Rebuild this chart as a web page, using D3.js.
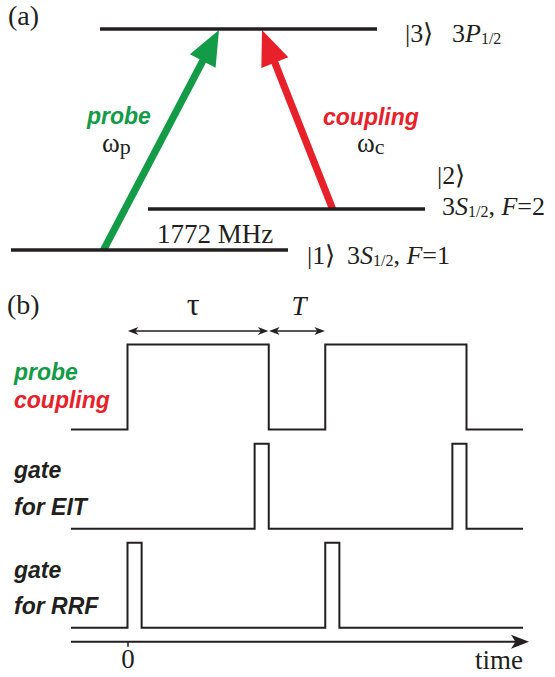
<!DOCTYPE html>
<html>
<head>
<meta charset="utf-8">
<script src="https://cdn.jsdelivr.net/npm/d3@7"></script>
<style>
  html, body { margin: 0; padding: 0; background: #fff; }
  svg { display: block; }
  .serif { font-family: "Liberation Serif", "Times New Roman", serif; fill: #231f20; }
  .sans  { font-family: "Liberation Sans", Arial, sans-serif; font-weight: bold; font-style: italic; }
</style>
</head>
<body>
<svg id="fig" width="555" height="677"></svg>
<script>
// ---------- data ----------
// Λ-type level scheme of Na (schematic level heights)
const levelKets    = ["|1⟩", "|2⟩", "|3⟩"];
const levelTerms   = ["3S", "3S", "3P"];
const levelFvalues = ["1", "2", null];
const levelHeights = [0, 1, 5.4];
const splittingLabel = "1772 MHz";

// transitions: [from level, to level]
const transitionNames = ["probe", "coupling"];
const transitionSymbols = ["p", "c"];
const transitionLevels = [[0, 2], [1, 2]];

// pulse sequence, time in units of the gate width
const timeDomain = [-4, 28];
const timeTicks = [0];
const tauInterval = [0, 10];
const TInterval = [10, 14];
const probeCouplingPulses = [[0, 10], [14, 24]];
const gateEITPulses = [[9, 10], [23, 24]];
const gateRRFPulses = [[0, 1], [14, 15]];
const rowPulses = [probeCouplingPulses, gateEITPulses, gateRRFPulses];
const rowLabels = [["probe", "coupling"], ["gate", "for EIT"], ["gate", "for RRF"]];

// ---------- style / layout ----------
const INK = "#231f20", GREEN = "#149b48", RED = "#e8202a";
const labelColors = [[GREEN, RED], [INK, INK], [INK, INK]];
const levelX0 = [11, 148, 100], levelLen = 277;
const arrowFootX = [103, 333], arrowTipX = [219, 262];

const svg = d3.select("#fig");

// ======================= (a) level scheme =======================
const yE = d3.scaleLinear().domain([0, 5.4]).range([250, 29]);

function arrowPoly(x0, y0, x1, y1, hw, headLen, headHw) {
  const dx = x1 - x0, dy = y1 - y0, L = Math.hypot(dx, dy);
  const ux = dx / L, uy = dy / L, nx = -uy, ny = ux;
  const bx = x1 - ux * headLen, by = y1 - uy * headLen;
  // shaft foot cut horizontally along the lower level
  const foot = s => { const t = -ny * s * hw / uy; return [x0 + nx * s * hw + t * ux, y0]; };
  return [foot(1), [bx + nx * hw, by + ny * hw], [bx + nx * headHw, by + ny * headHw], [x1, y1],
          [bx - nx * headHw, by - ny * headHw], [bx - nx * hw, by - ny * hw], foot(-1)];
}

const gA = svg.append("g");
transitionLevels.forEach(([from, to], i) => {
  const pts = arrowPoly(arrowFootX[i], yE(levelHeights[from]) + 1, arrowTipX[i], yE(levelHeights[to]) + 1, 3.6, 35, 14.5);
  gA.append("path").attr("d", d3.line()(pts) + "Z").attr("fill", i === 0 ? GREEN : RED);
});

gA.selectAll("line.level").data(levelHeights).join("line")
  .attr("class", "level")
  .attr("x1", (d, i) => levelX0[i]).attr("x2", (d, i) => levelX0[i] + levelLen)
  .attr("y1", d => yE(d)).attr("y2", d => yE(d))
  .attr("stroke", INK).attr("stroke-width", 3.4);

gA.append("text").attr("class", "serif").attr("x", 8).attr("y", 25).attr("font-size", 28).text("(a)");

// transition labels
const tLabelPos = [[87, 124, 102, 152], [323, 125, 357, 152]];
transitionNames.forEach((name, i) => {
  const [lx, ly, wx, wy] = tLabelPos[i];
  gA.append("text").attr("class", "sans").attr("x", lx).attr("y", ly).attr("font-size", 23)
    .attr("fill", i === 0 ? GREEN : RED).text(name);
  const w = gA.append("text").attr("class", "serif").attr("x", wx).attr("y", wy).attr("font-size", 27);
  w.append("tspan").text("ω");
  w.append("tspan").attr("font-size", 22).attr("dy", 2).text(transitionSymbols[i]);
});

gA.append("text").attr("class", "serif").attr("x", 157).attr("y", 243).attr("font-size", 27).text(splittingLabel);

// level labels
function termLabel(x, y, i) {
  const t = gA.append("text").attr("class", "serif").attr("x", x).attr("y", y).attr("font-size", 26);
  t.append("tspan").text("3");
  t.append("tspan").attr("font-style", "italic").text(levelTerms[i].slice(1));
  t.append("tspan").attr("font-size", 16).attr("dy", 2).text("1/2");
  if (levelFvalues[i]) {
    t.append("tspan").attr("dy", -2).text(", ");
    t.append("tspan").attr("font-style", "italic").text("F");
    t.append("tspan").text("=" + levelFvalues[i]);
  }
}
const ketPos = [[307, 264], [437, 184], [405, 42]];
const termPos = [[347, 264], [442, 215], [452, 42]];
levelKets.forEach((k, i) => {
  gA.append("text").attr("class", "serif").attr("x", ketPos[i][0]).attr("y", ketPos[i][1])
    .attr("font-size", 26).text(k);
  termLabel(termPos[i][0], termPos[i][1], i);
});

// ======================= (b) timing chart =======================
const xT = d3.scaleLinear().domain(timeDomain).range([71, 523]);
const yRow = d3.scaleLinear().domain([0, 2]).range([429.5, 627.8]);
const pulseH = 85;
const gB = svg.append("g");

gB.append("text").attr("class", "serif").attr("x", 7).attr("y", 314).attr("font-size", 28).text("(b)");

rowPulses.forEach((pulses, r) => {
  const pts = [[timeDomain[0], 0]];
  pulses.forEach(([a, b]) => { pts.push([a, 0], [a, 1], [b, 1], [b, 0]); });
  pts.push([timeDomain[1], 0]);
  const line = d3.line().x(d => xT(d[0])).y(d => yRow(r) - d[1] * pulseH);
  gB.append("path").attr("d", line(pts)).attr("fill", "none")
    .attr("stroke", INK).attr("stroke-width", 2).attr("stroke-linejoin", "miter");
});

// row labels
const rowLabelBaselines = [[379.5, 407.7], [478, 515], [577.5, 614]];
rowLabels.forEach((lbls, r) => {
  lbls.forEach((txt, j) => {
    gB.append("text").attr("class", "sans").attr("x", 14).attr("y", rowLabelBaselines[r][j])
      .attr("font-size", 23).attr("fill", labelColors[r][j]).text(txt);
  });
});

// notched arrowhead pointing along +x at (x, y)
function headPath(x, y, len, hw, notch, dir) {
  return d3.line()([[x, y], [x - dir * len, y - hw], [x - dir * (len - notch), y], [x - dir * len, y + hw]]) + "Z";
}

// τ and T dimension arrows
const yDim = 331;
function dimArrow(t0, t1) {
  const x0 = xT(t0) + 0.4, x1 = xT(t1) - 0.4;
  gB.append("line").attr("x1", x0 + 4).attr("x2", x1 - 4).attr("y1", yDim).attr("y2", yDim)
    .attr("stroke", INK).attr("stroke-width", 1.3);
  gB.append("path").attr("d", headPath(x0, yDim, 10.5, 4, 3, -1)).attr("fill", INK);
  gB.append("path").attr("d", headPath(x1, yDim, 10.5, 4, 3, 1)).attr("fill", INK);
}
dimArrow(...tauInterval);
dimArrow(...TInterval);
gB.append("text").attr("class", "serif").attr("x", xT((tauInterval[0] + tauInterval[1]) / 2) - 5)
  .attr("y", 315).attr("font-size", 32).attr("text-anchor", "middle").text("τ");
gB.append("text").attr("class", "serif").attr("x", xT((TInterval[0] + TInterval[1]) / 2) + 2)
  .attr("y", 315).attr("font-size", 27).attr("font-style", "italic").attr("text-anchor", "middle").text("T");

// time axis
const yAxis = 641.7;
const axisEnd = 529;
gB.append("line").attr("x1", xT(timeDomain[0])).attr("x2", axisEnd - 10).attr("y1", yAxis).attr("y2", yAxis)
  .attr("stroke", INK).attr("stroke-width", 2);
gB.append("path").attr("d", headPath(axisEnd, yAxis, 18, 7, 4.5, 1)).attr("fill", INK);

const axis = d3.axisBottom(xT).tickValues(timeTicks).tickSize(5).tickPadding(2).tickFormat(d3.format("d"));
const gAxis = gB.append("g").attr("transform", `translate(0,${yAxis})`).call(axis);
gAxis.select(".domain").remove();
gAxis.selectAll(".tick line").attr("stroke", INK).attr("stroke-width", 1.5);
gAxis.selectAll(".tick text").attr("class", "serif").attr("font-size", 27)
  .attr("font-family", "Liberation Serif, Times New Roman, serif").attr("fill", INK);

gB.append("text").attr("class", "serif").attr("x", 523).attr("y", 669).attr("font-size", 27)
  .attr("text-anchor", "end").text("time");
</script>
</body>
</html>
